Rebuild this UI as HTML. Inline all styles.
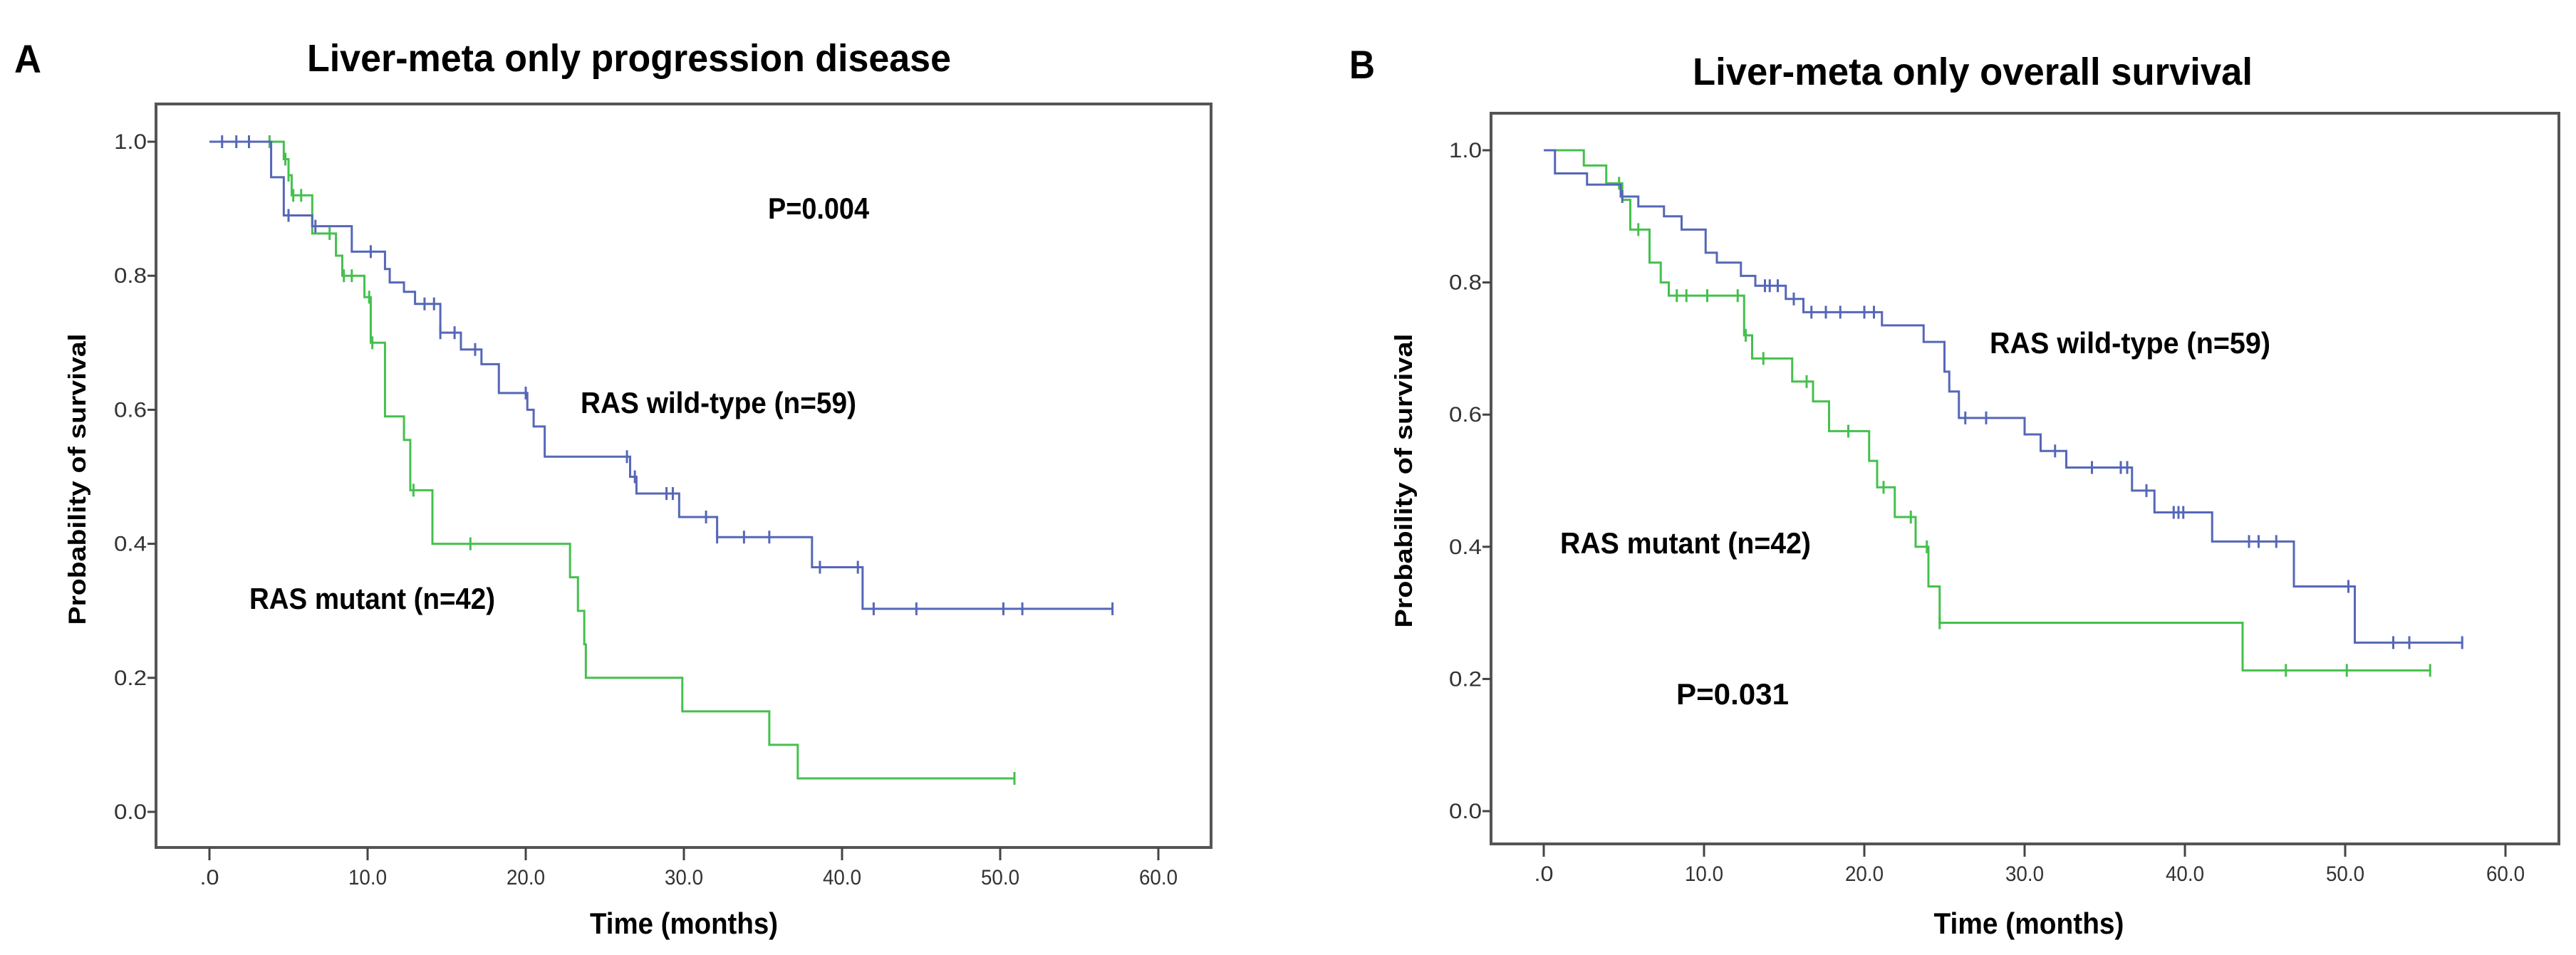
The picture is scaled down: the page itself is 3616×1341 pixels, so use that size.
<!DOCTYPE html>
<html><head><meta charset="utf-8"><style>
html,body{margin:0;padding:0;background:#fff;width:3616px;height:1341px;overflow:hidden}
svg text{font-family:"Liberation Sans",sans-serif}
</style></head><body>
<svg id="fig" width="3616" height="1341" viewBox="0 0 3616 1341" xmlns="http://www.w3.org/2000/svg">
<rect width="3616" height="1341" fill="#fff"/>
<g id="pA">
<text x="20" y="102" font-size="56" font-weight="bold" textLength="38" lengthAdjust="spacingAndGlyphs">A</text>
<text x="883" y="100" font-size="54" font-weight="bold" text-anchor="middle" textLength="904" lengthAdjust="spacingAndGlyphs">Liver-meta only progression disease</text>
<text transform="translate(120,673) rotate(-90)" font-size="34" font-weight="bold" text-anchor="middle" textLength="409" lengthAdjust="spacingAndGlyphs">Probability of survival</text>
<text x="960" y="1311" font-size="42" font-weight="bold" text-anchor="middle" textLength="264" lengthAdjust="spacingAndGlyphs">Time (months)</text>
<text x="1078" y="307" font-size="42" font-weight="bold" textLength="142" lengthAdjust="spacingAndGlyphs">P=0.004</text>
<text x="815" y="580" font-size="42" font-weight="bold" textLength="387" lengthAdjust="spacingAndGlyphs">RAS wild-type (n=59)</text>
<text x="350" y="855" font-size="42" font-weight="bold" textLength="345" lengthAdjust="spacingAndGlyphs">RAS mutant (n=42)</text>
</g>
<g id="pB">
<text x="1894" y="110" font-size="56" font-weight="bold" textLength="36" lengthAdjust="spacingAndGlyphs">B</text>
<text x="2769" y="119" font-size="54" font-weight="bold" text-anchor="middle" textLength="786" lengthAdjust="spacingAndGlyphs">Liver-meta only overall survival</text>
<text transform="translate(1982,675) rotate(-90)" font-size="34" font-weight="bold" text-anchor="middle" textLength="413" lengthAdjust="spacingAndGlyphs">Probability of survival</text>
<text x="2848" y="1311" font-size="42" font-weight="bold" text-anchor="middle" textLength="267" lengthAdjust="spacingAndGlyphs">Time (months)</text>
<text x="2793" y="496" font-size="42" font-weight="bold" textLength="394" lengthAdjust="spacingAndGlyphs">RAS wild-type (n=59)</text>
<text x="2190" y="777" font-size="42" font-weight="bold" textLength="352" lengthAdjust="spacingAndGlyphs">RAS mutant (n=42)</text>
<text x="2353" y="989" font-size="42" font-weight="bold" textLength="158" lengthAdjust="spacingAndGlyphs">P=0.031</text>
</g>
</svg>
<script>
const xTicks = [0,10,20,30,40,50,60];
const xTickLabels = [".0","10.0","20.0","30.0","40.0","50.0","60.0"];
const yTicks = [0,0.2,0.4,0.6,0.8,1.0];
const yTickLabels = ["0.0","0.2","0.4","0.6","0.8","1.0"];

// Panel A: wild-type (blue) step times and survival after each step
const aWildT = [3.9,4.7,6.5,9.0,11.1,11.4,12.3,13.0,14.6,15.9,17.2,18.3,20.1,20.5,21.2,26.6,27.0,29.7,32.1,38.1,41.3];
const aWildS = [0.947,0.89,0.874,0.836,0.81,0.79,0.776,0.758,0.715,0.69,0.668,0.625,0.60,0.575,0.53,0.50,0.475,0.44,0.41,0.365,0.303];
const aWildCens = [0.8,1.7,2.5,5.0,6.7,10.2,13.6,14.2,14.6,15.5,16.8,20.0,26.4,26.9,28.9,29.3,31.4,32.1,33.8,35.4,38.6,41.0,42.0,44.7,50.2,51.4,57.1];
const aWildEnd = 57.1;
// Panel A: mutant (green)
const aMutT = [4.7,5.0,5.2,6.5,8.0,8.4,9.8,10.2,11.1,12.3,12.7,14.1,22.8,23.3,23.7,23.8,29.9,35.4,37.2];
const aMutS = [0.974,0.95,0.92,0.863,0.83,0.80,0.768,0.70,0.59,0.555,0.48,0.40,0.35,0.30,0.25,0.20,0.15,0.10,0.05];
const aMutCens = [3.8,4.8,5.0,5.3,5.8,7.6,8.5,9.0,10.1,10.3,12.9,16.5,50.9];
const aMutEnd = 50.9;

// Panel B: wild-type (blue)
const bWildT = [0.7,2.7,4.8,5.9,7.5,8.6,10.1,10.8,12.3,13.2,15.1,16.2,21.1,23.7,25.0,25.3,25.9,30.0,31.0,32.6,36.7,38.1,41.7,46.8,50.6];
const bWildS = [0.965,0.948,0.93,0.915,0.90,0.88,0.845,0.83,0.81,0.795,0.775,0.755,0.735,0.71,0.665,0.635,0.595,0.57,0.545,0.52,0.485,0.452,0.408,0.34,0.255];
const bWildCens = [4.9,13.8,14.1,14.6,15.6,16.7,17.6,18.5,20.0,20.6,26.3,27.6,31.9,34.2,36.0,36.4,37.6,39.3,39.6,39.9,44.0,44.6,45.7,50.2,53.0,54.0,57.3];
const bWildEnd = 57.3;
// Panel B: mutant (green)
const bMutT = [2.5,3.9,4.9,5.4,6.6,7.3,7.8,12.5,13.0,15.5,16.8,17.8,20.3,20.8,21.9,23.2,24.0,24.7,43.6];
const bMutS = [0.977,0.95,0.925,0.88,0.83,0.80,0.78,0.72,0.685,0.65,0.62,0.575,0.53,0.49,0.445,0.40,0.34,0.285,0.213];
const bMutCens = [4.7,5.9,8.3,8.9,10.2,12.1,12.6,13.7,16.4,19.0,21.2,22.9,23.9,24.7,46.3,50.1,55.3];
const bMutEnd = 55.3;

const NS = "http://www.w3.org/2000/svg";
const BLUE = "#5567b8", GREEN = "#45c04e";
function mk(tag, attrs, parent){const e=document.createElementNS(NS,tag);for(const k in attrs)e.setAttribute(k,attrs[k]);parent.appendChild(e);return e;}

function survAt(T,S,t){let s=1;for(let i=0;i<T.length;i++){if(T[i]<=t)s=S[i];}return s;}

function drawPanel(g, L, Tp, R, B, x0, x60, y0, y1, series, prefix){
  const sx = t => x0 + (x60-x0)*t/60;
  const sy = v => y0 + (y1-y0)*v;
  const box = mk("rect",{x:L,y:Tp,width:R-L,height:B-Tp,fill:"none",stroke:"#555","stroke-width":4},g);
  
  
  yTicks.forEach((v,i)=>{
    const tk=mk("line",{x1:L-12,x2:L,y1:sy(v),y2:sy(v),stroke:"#444","stroke-width":3},g);
    
    
    const tx=mk("text",{x:L-13,y:sy(v)+10,"font-size":30,"text-anchor":"end",fill:"#333",textLength:46,lengthAdjust:"spacingAndGlyphs"},g);
    tx.textContent=yTickLabels[i];
    
    
  });
  xTicks.forEach((t,i)=>{
    const tk=mk("line",{x1:sx(t),x2:sx(t),y1:B,y2:B+18,stroke:"#444","stroke-width":3},g);
    
    
    const lbl=xTickLabels[i];
    const tx=mk("text",{x:sx(t),y:B+52,"font-size":30,"text-anchor":"middle",fill:"#333",textLength:lbl.length*13.5,lengthAdjust:"spacingAndGlyphs"},g);
    tx.textContent=lbl;
    
    
  });
  series.forEach(s=>{
    let d="M"+sx(0)+","+sy(1);
    let cur=1;
    for(let i=0;i<s.T.length;i++){d+=" H"+sx(s.T[i])+" V"+sy(s.S[i]);cur=s.S[i];}
    d+=" H"+sx(s.end);
    const p=mk("path",{d:d,fill:"none",stroke:s.color,"stroke-width":3},g);
    
    
    s.cens.forEach(t=>{
      const v=survAt(s.T,s.S,t);
      const c=mk("line",{x1:sx(t),x2:sx(t),y1:sy(v)-9,y2:sy(v)+9,stroke:s.color,"stroke-width":3},g);
      
      
    });
  });
}

drawPanel(document.getElementById("pA"),219,146,1700,1190,294,1626,1140,199,[
  {name:"mutant",color:GREEN,T:aMutT,S:aMutS,cens:aMutCens,end:aMutEnd},
  {name:"wild-type",color:BLUE,T:aWildT,S:aWildS,cens:aWildCens,end:aWildEnd}
],"panel-a");
drawPanel(document.getElementById("pB"),2093,159,3592,1185,2167,3517,1139,211,[
  {name:"mutant",color:GREEN,T:bMutT,S:bMutS,cens:bMutCens,end:bMutEnd},
  {name:"wild-type",color:BLUE,T:bWildT,S:bWildS,cens:bWildCens,end:bWildEnd}
],"panel-b");
</script>
</body></html>
